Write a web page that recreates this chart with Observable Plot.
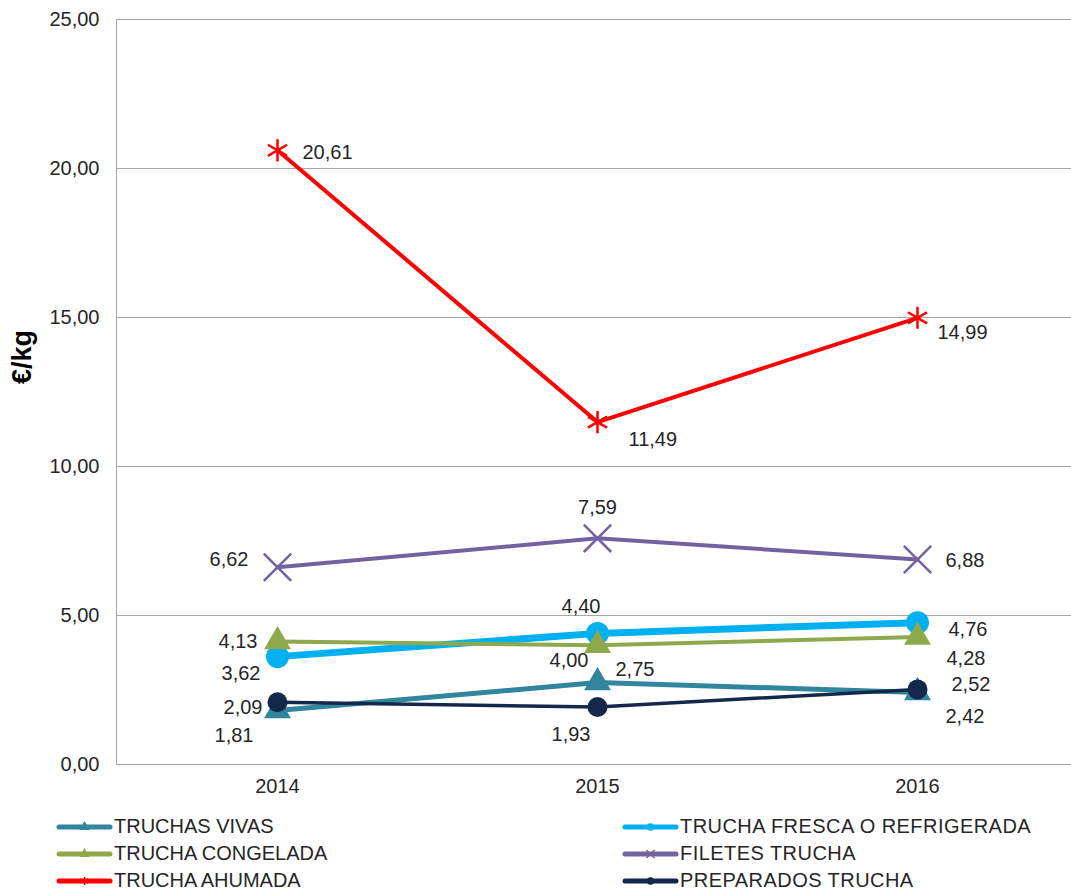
<!DOCTYPE html>
<html>
<head>
<meta charset="utf-8">
<script src="https://cdn.jsdelivr.net/npm/d3@7"></script>
<script src="https://cdn.jsdelivr.net/npm/@observablehq/plot@0.6"></script>
<style>
  html, body { margin: 0; padding: 0; background: #fff; }
  body { width: 1071px; height: 892px; position: relative; overflow: hidden; font-family: "Liberation Sans", Arial, sans-serif; }
  #chart { position: absolute; left: 0; top: 0; }
  #ylabel { position: absolute; left: 22px; top: 357px; transform: translate(-50%, -50%) rotate(-90deg); font-weight: bold; font-size: 27px; color: #000; white-space: nowrap; line-height: 1; }
  #legend { position: absolute; left: 0; top: 813px; width: 1071px; }
  .item { position: absolute; display: flex; align-items: center; height: 27px; font-size: 20px; color: #262626; white-space: nowrap; }
  .item.right span { letter-spacing: 0.45px; }
  .item svg { margin-right: 1px; }
</style>
</head>
<body>
<div id="chart"></div>
<div id="ylabel">€/kg</div>
<div id="legend"></div>
<script>
// ---- data ----
const years = ["2014", "2015", "2016"];
const seriesNames = [
  "TRUCHAS VIVAS",
  "TRUCHA FRESCA O REFRIGERADA",
  "TRUCHA CONGELADA",
  "FILETES TRUCHA",
  "TRUCHA AHUMADA",
  "PREPARADOS TRUCHA"
];
const truchasVivas = [1.81, 2.75, 2.42];
const truchaFresca = [3.62, 4.40, 4.76];
const truchaCongelada = [4.13, 4.00, 4.28];
const filetesTrucha = [6.62, 7.59, 6.88];
const truchaAhumada = [20.61, 11.49, 14.99];
const preparadosTrucha = [2.09, 1.93, 2.52];
const yTicks = [0, 5, 10, 15, 20, 25];

// ---- styles (not data) ----
const styles = [
  {color: "#31859C", width: 5, symbol: "triangle", r: 10},
  {color: "#00B0F0", width: 7, symbol: "circle", r: 11.5},
  {color: "#8EA94B", width: 4, symbol: "triangle", r: 10},
  {color: "#7561A0", width: 4, symbol: "times", r: 12.5, strokeOnly: true},
  {color: "#FF0000", width: 4, symbol: "asterisk", r: 10.5, strokeOnly: true},
  {color: "#13284A", width: 3.5, symbol: "circle", r: 10}
];
// label offsets [dx, dy, anchor] per series per year
const labelPlacement = [
  [[-24, 25, "end"], [18, -13, "start"], [28, 24, "start"]],
  [[-17, 17, "end"], [3, -27, "end"], [31, 7, "start"]],
  [[-20, 0, "end"], [-9, 15, "end"], [29, 22, "start"]],
  [[-29, -8, "end"], [0, -31, "middle"], [28, 1, "start"]],
  [[25, 2, "start"], [31, 17, "start"], [20, 15, "start"]],
  [[-15, 5, "end"], [-7, 28, "end"], [34, -5, "start"]]
];

const allSeries = [truchasVivas, truchaFresca, truchaCongelada, filetesTrucha, truchaAhumada, preparadosTrucha];
const rows = [];
allSeries.forEach((vals, i) => {
  vals.forEach((v, j) => rows.push({series: seriesNames[i], si: i, year: years[j], yi: j, value: v}));
});

const fmt = v => v.toFixed(2).replace(".", ",");

const marks = [];
allSeries.forEach((vals, i) => {
  const s = styles[i];
  const d = rows.filter(r => r.si === i);
  marks.push(Plot.line(d, {x: "year", y: "value", stroke: s.color, strokeWidth: s.width, strokeLinejoin: "round", strokeLinecap: "round"}));
  if (s.strokeOnly) {
    marks.push(Plot.dot(d, {x: "year", y: "value", symbol: s.symbol, r: s.r, stroke: s.color, strokeWidth: 2.5, fill: "none"}));
  } else {
    marks.push(Plot.dot(d, {x: "year", y: "value", symbol: s.symbol, r: s.r, fill: s.color, stroke: "none"}));
  }
});

rows.forEach(r => {
  const [dx, dy, anchor] = labelPlacement[r.si][r.yi];
  marks.push(Plot.text([r], {x: "year", y: "value", text: d => fmt(d.value), dx, dy, textAnchor: anchor, fill: "#262626", fontSize: 20}));
});

const chart = Plot.plot({
  width: 1071,
  height: 800,
  marginLeft: 116,
  marginRight: 0,
  marginTop: 19,
  marginBottom: 36,
  style: {fontFamily: "Liberation Sans, Arial, sans-serif", fontSize: "20px", color: "#262626", background: "white"},
  x: {type: "point", domain: years, range: [277, 917], padding: 0, axis: null},
  y: {domain: [0, 25], axis: null},
  marks: [
    Plot.ruleY(yTicks, {stroke: "#A6A6A6", strokeWidth: 1}),
    Plot.axisY(yTicks, {tickSize: 0, tickPadding: 17, tickFormat: fmt, fontSize: 20, label: null}),
    Plot.axisX(years, {tickSize: 0, tickPadding: 14, fontSize: 20, label: null}),
    Plot.frame({anchor: "left", stroke: "#A6A6A6"}),
    ...marks
  ]
});
document.getElementById("chart").appendChild(chart);

// ---- legend ----
const legendPos = [
  [56, 0], [622, 0],
  [56, 27], [622, 27],
  [56, 54], [622, 54]
];
const legend = document.getElementById("legend");
seriesNames.forEach((name, i) => {
  const s = styles[i];
  const div = document.createElement("div");
  div.className = "item" + (i % 2 ? " right" : "");
  div.style.left = legendPos[i][0] + "px";
  div.style.top = legendPos[i][1] + "px";
  const ns = "http://www.w3.org/2000/svg";
  const svg = document.createElementNS(ns, "svg");
  svg.setAttribute("width", 57);
  svg.setAttribute("height", 16);
  const line = document.createElementNS(ns, "line");
  line.setAttribute("x1", 3); line.setAttribute("x2", 54);
  line.setAttribute("y1", 8); line.setAttribute("y2", 8);
  line.setAttribute("stroke", s.color);
  line.setAttribute("stroke-width", 5);
  line.setAttribute("stroke-linecap", "round");
  svg.appendChild(line);
  const symMap = {triangle: d3.symbolTriangle, circle: d3.symbolCircle, times: d3.symbolTimes, asterisk: d3.symbolAsterisk};
  const p = document.createElementNS(ns, "path");
  p.setAttribute("d", d3.symbol(symMap[s.symbol], 45)());
  p.setAttribute("transform", "translate(28.5,8)");
  if (s.strokeOnly) { p.setAttribute("fill", "none"); p.setAttribute("stroke", s.color); p.setAttribute("stroke-width", 1.5); }
  else p.setAttribute("fill", s.color);
  svg.appendChild(p);
  div.appendChild(svg);
  const t = document.createElement("span");
  t.textContent = name;
  div.appendChild(t);
  legend.appendChild(div);
});
</script>
</body>
</html>
